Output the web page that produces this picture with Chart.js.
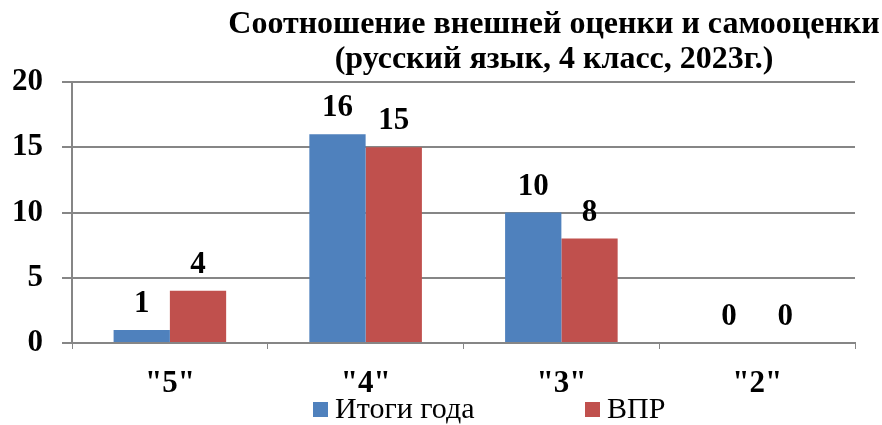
<!DOCTYPE html>
<html><head><meta charset="utf-8">
<script src="https://cdn.jsdelivr.net/npm/chart.js@4/dist/chart.umd.min.js"></script>
<style>html,body{margin:0;padding:0;background:#fff}#wrap{width:882px;height:425px}</style>
</head><body><div id="wrap"><canvas id="c" width="882" height="425"></canvas></div>
<script>
const categories = ['"5"', '"4"', '"3"', '"2"'];
const seriesNames = ['Итоги года', 'ВПР'];
const itogiGoda = [1, 16, 10, 0];
const vpr = [4, 15, 8, 0];
const yTicks = [0, 5, 10, 15, 20];
const titleLines = ['Соотношение внешней оценки и самооценки', '(русский язык, 4 класс, 2023г.)'];
const colors = ['#4F81BD', '#C0504D'];
const FONT = '"Liberation Serif", "Times New Roman", serif';

const titlePlugin = {
  id: 'customTitle',
  afterDraw(chart) {
    const ctx = chart.ctx;
    ctx.save();
    ctx.fillStyle = '#000';
    ctx.font = 'bold 32px ' + FONT;
    ctx.textAlign = 'center';
    ctx.textBaseline = 'middle';
    const cx = 554;
    [25, 60].forEach((y, i) => {
      ctx.fillText(titleLines[i], cx, y);
    });
    ctx.restore();
  }
};

const dataLabels = {
  id: 'dataLabels',
  afterDatasetsDraw(chart) {
    const ctx = chart.ctx;
    ctx.save();
    ctx.fillStyle = '#000';
    ctx.font = 'bold 31px ' + FONT;
    ctx.textAlign = 'center';
    ctx.textBaseline = 'alphabetic';
    chart.data.datasets.forEach((ds, di) => {
      const meta = chart.getDatasetMeta(di);
      meta.data.forEach((el, i) => {
        ctx.fillText(String(ds.data[i]), el.x, el.y - 18);
      });
    });
    ctx.restore();
  }
};

const legendPlugin = {
  id: 'customLegend',
  afterDraw(chart) {
    const ctx = chart.ctx;
    ctx.save();
    ctx.font = '30px ' + FONT;
    ctx.textBaseline = 'middle';
    ctx.textAlign = 'left';
    const starts = [313, 585];
    const y = 410;
    chart.data.datasets.forEach((ds, i) => {
      ctx.fillStyle = ds.backgroundColor;
      ctx.fillRect(starts[i], y - 8, 15, 15);
      ctx.fillStyle = '#000';
      ctx.fillText(ds.label, starts[i] + 22, y);
    });
    ctx.restore();
  }
};

new Chart(document.getElementById('c'), {
  type: 'bar',
  data: {
    labels: categories,
    datasets: [
      { label: seriesNames[0], data: itogiGoda, backgroundColor: colors[0] },
      { label: seriesNames[1], data: vpr, backgroundColor: colors[1] }
    ]
  },
  options: {
    responsive: false,
    animation: false,
    devicePixelRatio: 1,
    layout: { padding: { left: 0, right: 27, top: 82, bottom: 0 } },
    plugins: { legend: { display: false }, title: { display: false }, tooltip: { enabled: false } },
    datasets: { bar: { categoryPercentage: 0.575, barPercentage: 1 } },
    scales: {
      x: {
        offset: true,
        grid: { display: true, drawOnChartArea: false, color: '#868686', tickLength: 6, offset: true },
        border: { color: '#868686', width: 2 },
        ticks: { color: '#000', font: { family: FONT, size: 31, weight: 'bold' }, padding: 16 },
        afterFit(s) { s.height = 82; }
      },
      y: {
        min: 0, max: 20,
        afterBuildTicks(s) { s.ticks = yTicks.map(v => ({ value: v })); },
        grid: { color: '#868686', tickLength: 10, lineWidth: 2 },
        border: { color: '#868686', width: 2 },
        ticks: { color: '#000', font: { family: FONT, size: 31, weight: 'bold' }, padding: 19 },
        afterFit(s) { s.width = 72; }
      }
    }
  },
  plugins: [titlePlugin, dataLabels, legendPlugin]
});
</script></body></html>
